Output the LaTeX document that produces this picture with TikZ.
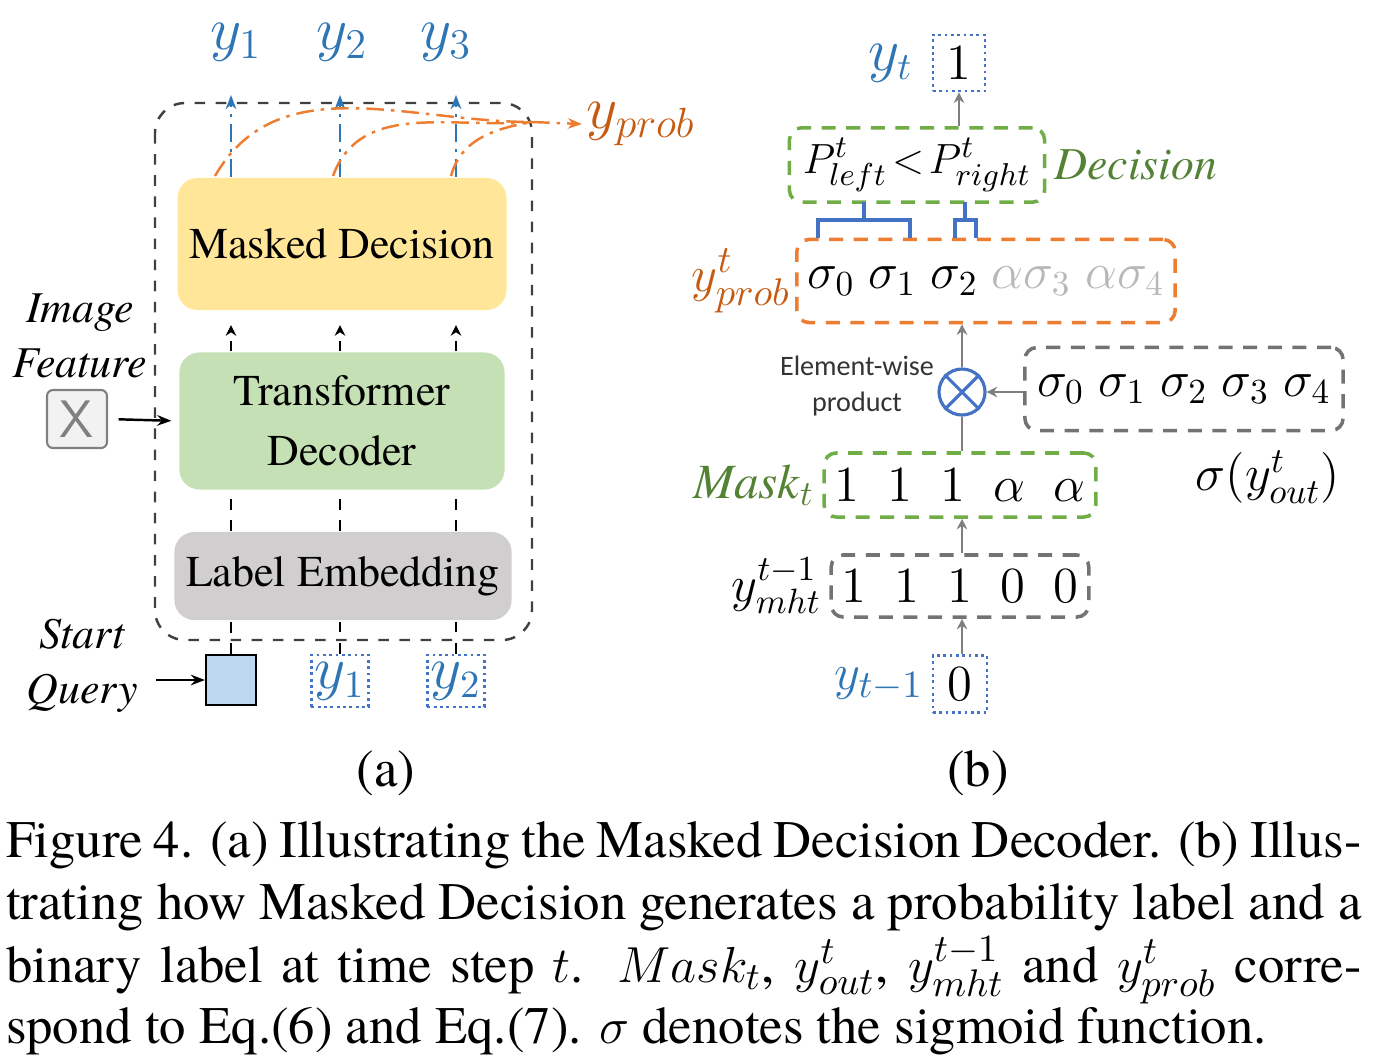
\documentclass[tikz,border=0pt]{standalone}
\usepackage{fontspec}
\setmainfont{texgyretermes}[Extension=.otf, UprightFont=*-regular, ItalicFont=*-italic,
  BoldFont=*-bold, BoldItalicFont=*-bolditalic]
\newfontfamily\smallsans{Carlito}
\usetikzlibrary{arrows.meta,positioning}

\definecolor{lblblue}{HTML}{2E75B6}
\definecolor{boxblue}{HTML}{4472C4}
\definecolor{probor}{HTML}{C55A11}
\definecolor{dashor}{HTML}{ED7D31}
\definecolor{decgreen}{HTML}{548235}
\definecolor{dashgreen}{HTML}{70AD47}
\definecolor{mdyellow}{HTML}{FFE699}
\definecolor{tdgreen}{HTML}{C5E0B4}
\definecolor{legray}{HTML}{D0CECE}
\definecolor{sqblue}{HTML}{BDD7EE}
\definecolor{arrgray}{HTML}{7F7F7F}

\tikzset{
  block/.style={rounded corners=0.2cm, minimum width=3.25cm, align=center,
    font=\fontsize{12.5}{15}\selectfont},
  frame/.style={draw=black!75, dashed, rounded corners=0.3cm, line width=0.7pt},
  vecbox/.style={draw, rounded corners=0.12cm, line width=1pt,
    dash pattern=on 4pt off 3pt, inner sep=3pt, font=\fontsize{14}{16}\selectfont},
  bitbox/.style={draw=boxblue, densely dotted, line width=0.8pt, inner sep=1pt},
  flow/.style={draw=arrgray, line width=0.7pt, -{Stealth[length=3pt,width=3pt]}},
  feed/.style={line width=0.7pt, -{Stealth[length=4pt,width=3pt]}},
  colup/.style={dashed, line width=0.7pt},
  outarrow/.style={draw=lblblue, line width=0.7pt,
    dash pattern=on 5pt off 2pt on 1pt off 2pt, -{Stealth[length=4pt,width=3pt]}},
  probcurve/.style={draw=dashor, line width=0.7pt,
    dash pattern=on 5pt off 2pt on 1pt off 2pt},
  bracket/.style={draw=boxblue, line width=1pt},
  sidelbl/.style={font=\fontsize{13}{15}\selectfont, inner sep=1pt},
  capline/.style={anchor=base west, inner sep=0pt, font=\fontsize{15}{18}\selectfont},
}

\begin{document}
\begin{tikzpicture}[x=0.01cm, y=-0.01cm, line width=0.6pt,
    every node/.style={font=\fontsize{12}{14}\selectfont}]
  \useasboundingbox (0,0) rectangle (1384,1060);

  % ---------------- (a) the decoder ----------------
  \draw[frame] (155,103) rectangle (532,640);
  \node[block, fill=mdyellow, minimum height=1.32cm] (md) at (342,244) {Masked Decision};
  \node[block, fill=tdgreen, minimum height=1.37cm] (td) at (342,421)
    {Transformer\\[2pt]Decoder};
  \node[block, fill=legray, minimum height=0.88cm, minimum width=3.27cm] (le) at (343,576)
    {Label Embedding};

  % inputs under the frame
  \node[draw, fill=sqblue, minimum size=0.5cm, inner sep=0pt] (sq) at (231,680) {};
  \node[bitbox, minimum size=0.52cm, font=\fontsize{16}{18}\selectfont] (in1) at (340,681)
    {\color{lblblue}$y_1$};
  \node[bitbox, minimum size=0.52cm, font=\fontsize{16}{18}\selectfont] (in2) at (456,681)
    {\color{lblblue}$y_2$};
  \node[align=center, font=\fontsize{12.5}{15.5}\selectfont\itshape] (sqlbl) at (82,666)
    {Start\\Query};
  \draw[feed] (sqlbl.east |- sq.west) ++(6,0) -- (sq.west);

  % image feature
  \node[align=center, font=\fontsize{12.5}{15.5}\selectfont\itshape] (imglbl) at (80,336)
    {Image\\Feature};
  \node[draw=gray, fill=gray!10, rounded corners=0.06cm, minimum width=0.6cm,
    minimum height=0.58cm, inner sep=0pt, font=\fontsize{15}{17}\sffamily\color{gray}]
    (xf) at (77,419) {X};
  \draw[feed, shorten <=3pt, shorten >=2pt] (xf.east) -- (td.west);

  % columns between the blocks
  \draw[colup] (sq.north) -- (sq.north |- le.south);
  \draw[colup] (in1.north) -- (in1.north |- le.south);
  \draw[colup] (in2.north) -- (in2.north |- le.south);
  \draw[colup] (le.north -| sq.north) -- (td.south -| sq.north);
  \draw[colup] (le.north -| in1.north) -- (td.south -| in1.north);
  \draw[colup] (le.north -| in2.north) -- (td.south -| in2.north);
  \draw[colup, -{Stealth[length=3pt,width=3pt]}, shorten >=4pt]
    (td.north -| sq.north) -- (md.south -| sq.north);
  \draw[colup, -{Stealth[length=3pt,width=3pt]}, shorten >=4pt]
    (td.north -| in1.north) -- (md.south -| in1.north);
  \draw[colup, -{Stealth[length=3pt,width=3pt]}, shorten >=4pt]
    (td.north -| in2.north) -- (md.south -| in2.north);

  % outputs y_1 y_2 y_3
  \node[font=\fontsize{17}{19}\selectfont, text=lblblue] (o1) at (236,42) {$y_1$};
  \node[font=\fontsize{17}{19}\selectfont, text=lblblue] (o2) at (342,42) {$y_2$};
  \node[font=\fontsize{17}{19}\selectfont, text=lblblue] (o3) at (446,42) {$y_3$};
  \draw[outarrow] (md.north -| sq.north) -- (sq.north |- 0,95);
  \draw[outarrow] (md.north -| in1.north) -- (in1.north |- 0,95);
  \draw[outarrow] (md.north -| in2.north) -- (in2.north |- 0,95);

  % probability output, merged from the three columns
  \coordinate (merge) at (532,122);
  \node[font=\fontsize{17}{19}\selectfont, text=probor, anchor=west, inner sep=1pt]
    (yprob) at (582,124) {$y_{prob}$};
  \draw[probcurve] (215,176) to[out=60, in=180] (merge);
  \draw[probcurve] (333,176) to[out=70, in=185] (merge);
  \draw[probcurve] (451,176) to[out=75, in=190] (merge);
  \draw[probcurve, -{Stealth[length=4pt,width=3pt]}] (merge) -- (yprob.west);

  \node[font=\fontsize{15}{17}\selectfont] (capa) at (386,773) {(a)};

  % ---------------- (b) masked decision ----------------
  \node[bitbox, minimum width=0.52cm, minimum height=0.56cm, font=\fontsize{14}{16}\selectfont]
    (ytb) at (959,63) {$1$};
  \node[sidelbl, text=lblblue, font=\fontsize{16}{18}\selectfont, left=4pt of ytb] (ytl) {$y_t$};

  \node[vecbox, draw=dashgreen, minimum width=2.55cm, minimum height=0.72cm,
    font=\fontsize{12.5}{15}\selectfont] (dec) at (917,165)
    {$P^t_{left}\!<\!P^t_{right}$};
  \node[text=decgreen, anchor=west, font=\fontsize{13}{15}\selectfont, inner sep=2pt]
    (decl) at (dec.east) {$\mathit{Decision}$};
  \draw[flow] (ytb.south |- dec.north) -- (ytb.south);

  \node[vecbox, draw=dashor, minimum width=3.75cm, minimum height=0.83cm] (prob) at (986,281)
    {$\sigma_0\;\sigma_1\;\sigma_2$\;{\color{black!28}$\alpha\sigma_3\;\alpha\sigma_4$}};
  \node[sidelbl, text=probor, font=\fontsize{15}{17}\selectfont, left=0pt of prob] (probl)
    {$y^t_{prob}$};

  % brackets from the sigmas to the two sides of the decision
  \draw[bracket] (818,238) -- (818,220) -- (910,220) -- (910,238);
  \draw[bracket] (864,220) -- (864,202);
  \draw[bracket] (955,238) -- (955,220) -- (976,220) -- (976,238);
  \draw[bracket] (965,220) -- (965,202);

  \node[circle, draw=boxblue, line width=0.9pt, minimum size=0.46cm, inner sep=0pt]
    (mul) at (962,392) {};
  \draw[boxblue, line width=0.9pt] (mul.north west) -- (mul.south east)
    (mul.north east) -- (mul.south west);
  \node[align=center, text=black!80, font=\fontsize{8}{10}\smallsans] (mull)
    at (857,386) {Element-wise\\product};
  \draw[flow] (mul.north) -- (mul.north |- prob.south);

  \node[vecbox, draw=black!55, minimum width=3.18cm, minimum height=0.83cm] (sig)
    at (1184,389) {$\sigma_0\;\sigma_1\;\sigma_2\;\sigma_3\;\sigma_4$};
  \node[font=\fontsize{14}{16}\selectfont] (sigl) at (1268,477) {$\sigma(y^t_{out})$};
  \draw[flow] (sig.west |- mul.east) -- (mul.east);

  \node[vecbox, draw=dashgreen, minimum width=2.2cm, minimum height=0.64cm] (mask)
    at (960,485) {$1\;\;1\;\;1\;\;\alpha\;\;\alpha$};
  \node[sidelbl, text=decgreen, font=\fontsize{14}{16}\selectfont, left=1pt of mask] (maskl)
    {$\mathit{Mask}_t$};
  \draw[arrgray, line width=0.7pt] (mul.south |- mask.north) -- (mul.south);

  \node[vecbox, draw=black!55, minimum width=2.2cm, minimum height=0.62cm] (mht)
    at (960,586) {$1\;\;1\;\;1\;\;0\;\;0$};
  \node[sidelbl, font=\fontsize{14}{16}\selectfont, left=1pt of mht] (mhtl)
    {$y^{t-1}_{mht}$};
  \draw[flow] (mul.south |- mht.north) -- (mul.south |- mask.south);

  \node[bitbox, minimum width=0.54cm, minimum height=0.57cm, font=\fontsize{14}{16}\selectfont]
    (ytm) at (960,684) {$0$};
  \node[sidelbl, text=lblblue, font=\fontsize{15}{17}\selectfont, left=1pt of ytm] (ytml)
    {$y_{t-1}$};
  \draw[flow] (mul.south |- ytm.north) -- (mul.south |- mht.south);

  \node[font=\fontsize{15}{17}\selectfont] (capb) at (978,773) {(b)};

  % ---------------- caption ----------------
  \node[capline] (cap1) at (5,857)
    {\makebox[13.55cm][s]{Figure 4. (a) Illustrating the Masked Decision Decoder. (b) Illus-}};
  \node[capline] (cap2) at (5,919)
    {\makebox[13.55cm][s]{trating how Masked Decision generates a probability label and a}};
  \node[capline] (cap3) at (5,982)
    {\makebox[13.55cm][s]{binary label at time step $t$. $Mask_t$, $y^t_{out}$, $y^{t-1}_{mht}$ and $y^t_{prob}$ corre-}};
  \node[capline] (cap4) at (5,1043)
    {spond to Eq.(6) and Eq.(7). $\sigma$ denotes the sigmoid function.};
\end{tikzpicture}
\end{document}
